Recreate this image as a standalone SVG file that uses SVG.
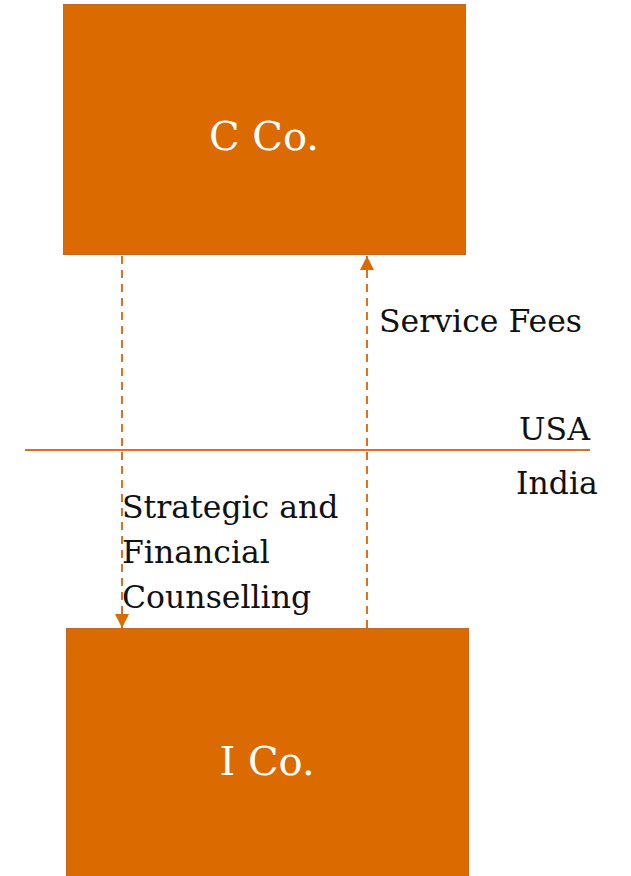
<svg xmlns="http://www.w3.org/2000/svg" width="631" height="876" viewBox="0 0 631 876">
<style>
.box{fill:#DB6A00;stroke:#C8681E;stroke-width:1}
.lbl{font-family:"DejaVu Serif","Liberation Serif",serif;fill:#111;font-size:31.5px}
.title{font-family:"DejaVu Serif","Liberation Serif",serif;fill:#fff;font-size:40px;text-anchor:middle}
.dash{stroke:#E07020;stroke-width:2;stroke-dasharray:8 6;fill:none}
</style>
<defs>
<marker id="ah" viewBox="0 0 10 10" refX="10" refY="5" markerWidth="15" markerHeight="14" markerUnits="userSpaceOnUse" orient="auto">
<path d="M0,0 L10,5 L0,10 Z" fill="#DB6A00"/>
</marker>
</defs>
<g id="c-co">
<rect class="box" x="63.5" y="4.5" width="402" height="250"/>
<text class="title" x="264" y="150">C Co.</text>
</g>
<g id="i-co">
<rect class="box" x="66.5" y="628.5" width="402" height="260"/>
<text class="title" x="267" y="775">I Co.</text>
</g>
<g id="connectors">
<line x1="25" y1="450" x2="590" y2="450" stroke="#E07020" stroke-width="2"/>
<path class="dash" d="M122,256 V628" marker-end="url(#ah)"/>
<path class="dash" d="M367,628 V256" marker-end="url(#ah)"/>
</g>
<g id="labels">
<text class="lbl" x="379" y="332">Service Fees</text>
<text class="lbl" x="519" y="440">USA</text>
<text class="lbl" x="516" y="494">India</text>
<text class="lbl" x="122" y="518">Strategic and</text>
<text class="lbl" x="122" y="563">Financial</text>
<text class="lbl" x="122" y="608">Counselling</text>
</g>
</svg>
